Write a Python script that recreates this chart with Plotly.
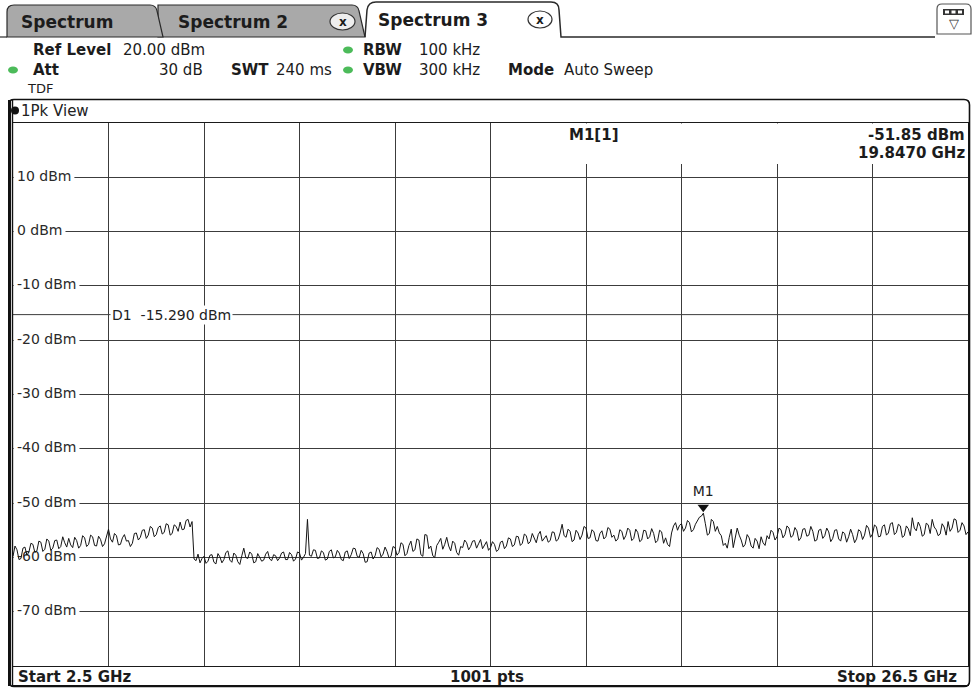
import plotly.graph_objects as go

# ---------------- data ----------------
start_ghz = 2.5
stop_ghz = 26.5
ref_level_dbm = 20.0
bottom_dbm = -80.0
sweep_points = 1001

# trace level (dBm), equally spaced (0.05 GHz) from start to stop
level_dbm = [
    # 2.50 - 7.00 GHz
    -59.8, -57.9, -58.6, -60.4, -60.2, -58.3, -58.1, -59.6, -59.0, -57.4,
    -57.6, -59.1, -58.8, -57.0, -57.2, -58.9, -58.5, -56.6, -57.0, -58.7,
    -58.3, -56.9, -56.8, -58.4, -58.0, -56.2, -57.3, -58.1, -56.5, -57.7,
    -58.2, -56.3, -56.9, -58.3, -57.8, -56.0, -56.4, -58.0, -57.6, -55.9,
    -56.2, -57.8, -57.9, -56.1, -56.7, -58.0, -57.5, -56.3, -54.8, -56.6,
    -57.2, -55.6, -56.0, -57.7, -57.6, -56.4, -55.8, -57.0, -56.9, -58.0,
    -57.4, -55.6, -55.5, -56.8, -56.3, -55.0, -54.9, -56.5, -55.9, -54.3,
    -54.6, -56.2, -55.8, -54.5, -54.2, -55.7, -55.4, -53.8, -54.0, -55.9,
    -55.6, -54.0, -54.3, -55.2, -53.5, -54.9, -54.8, -53.2, -53.0, -54.4,
    -53.4,
    # 7.05 - 10.20 GHz
    -60.3, -60.6, -59.4, -61.0, -60.2, -59.8, -61.1, -60.7, -59.6, -59.5,
    -60.9, -61.2, -59.3, -59.9, -61.0, -60.4, -59.1, -58.8, -60.5, -60.9,
    -59.2, -59.6, -60.8, -61.3, -59.7, -58.3, -60.0, -60.2, -59.0, -59.4,
    -61.0, -60.8, -59.3, -59.9, -60.7, -60.5, -59.4, -58.9, -60.3, -60.6,
    -59.5, -59.7, -60.6, -60.1, -59.2, -59.0, -60.4, -60.4, -59.1, -59.5,
    -60.7, -60.3, -59.0, -59.2, -60.5, -60.0, -59.3, -53.0, -59.6, -59.8,
    -58.6, -58.7, -60.2, -60.1,
    # 10.25 - 14.50 GHz
    -58.8, -59.1, -60.5, -60.3, -58.9, -58.6, -60.1, -59.9, -58.7, -59.2,
    -60.4, -60.6, -59.0, -58.8, -60.2, -59.5, -58.3, -58.4, -59.8, -60.0,
    -58.7, -59.3, -60.9, -60.8, -59.2, -59.0, -60.3, -59.7, -58.2, -58.5,
    -59.9, -59.4, -58.1, -58.9, -60.1, -59.8, -58.0, -58.2, -59.6, -59.1,
    -57.3, -57.6, -59.7, -59.3, -57.8, -57.0, -58.9, -58.6, -56.6, -56.8,
    -59.5, -59.8, -55.8, -55.9, -58.4, -57.9, -59.7, -60.0, -57.8, -57.2,
    -56.5, -58.5, -57.6, -56.3, -57.9, -58.8, -57.0, -57.4, -59.1, -59.6,
    -58.0, -58.2, -56.8, -57.3, -58.6, -58.0, -57.0, -56.9, -58.3, -57.5,
    -56.7, -58.4, -57.8, -57.1, -58.7, -58.2,
    # 14.55 - 17.60 GHz
    -57.1, -57.6, -58.9, -58.6, -57.2, -57.0, -58.4, -57.9, -56.4, -56.6,
    -58.0, -57.7, -56.1, -56.2, -57.8, -57.4, -55.7, -56.0, -57.5, -57.1,
    -55.6, -56.4, -57.3, -55.8, -55.2, -57.0, -56.6, -56.0, -57.2, -56.9,
    -55.3, -55.4, -57.0, -56.7, -55.5, -53.9, -56.0, -56.3, -54.8, -55.2,
    -57.1, -56.8, -55.0, -55.5, -56.7, -55.9, -54.3, -54.6, -56.5, -56.4,
    -54.9, -55.3, -56.9, -57.0, -55.6, -55.1, -56.6, -56.2, -54.5, -54.8,
    -56.3, -55.9,
    # 17.65 - 21.50 GHz
    -57.0, -56.6, -54.9, -55.2, -56.7, -56.0, -54.6, -55.0, -56.9, -56.5,
    -54.8, -55.4, -57.1, -56.8, -55.0, -55.1, -56.6, -56.2, -54.7, -55.6,
    -57.3, -56.9, -55.0, -55.3, -57.4, -56.4, -57.6, -58.0, -55.5, -54.2,
    -53.6, -55.0, -54.1, -53.8, -55.2, -54.6, -53.2, -53.6, -55.3, -54.9,
    -53.9, -53.3, -52.6, -52.4, -51.85, -53.8, -55.9, -55.6, -53.0, -53.4,
    -55.2, -54.3, -55.5, -56.0, -57.8, -57.4, -58.3, -56.3, -54.8, -58.2,
    -56.0, -54.6, -55.9, -56.8, -58.1, -57.6, -55.8, -56.4, -57.9, -58.3,
    -56.5, -57.0, -58.4, -56.2, -57.3, -57.8, -56.0, -56.6,
    # 21.55 - 26.50 GHz
    -55.0, -55.4, -56.8, -56.2, -54.6, -54.9, -56.4, -55.8, -54.2, -54.6,
    -56.3, -56.0, -54.5, -55.1, -56.9, -56.4, -54.8, -54.7, -56.1, -55.9,
    -54.3, -55.2, -57.0, -56.8, -55.0, -54.8, -56.5, -56.0, -54.6, -55.3,
    -57.1, -56.5, -55.0, -54.9, -56.6, -57.0, -55.3, -55.6, -57.2, -56.2,
    -54.8, -55.8, -57.3, -56.6, -54.9, -55.2, -56.7, -55.9, -54.1, -54.6,
    -56.3, -55.7, -54.0, -54.4, -56.2, -56.1, -54.3, -54.0, -55.9, -55.5,
    -53.8, -53.6, -55.8, -55.4, -53.9, -54.2, -56.3, -56.0, -54.2, -54.7,
    -56.0, -52.7, -54.6, -55.1, -53.5, -54.3, -56.1, -55.8, -53.7, -54.0,
    -55.6, -53.0, -54.4, -54.9, -56.0, -55.7, -53.8, -54.4, -55.9, -53.4,
    -55.2, -54.6, -52.9, -53.1, -55.4, -55.0, -53.6, -54.2, -55.8, -55.3,
]

x_grid_ghz = [2.5, 4.9, 7.3, 9.7, 12.1, 14.5, 16.9, 19.3, 21.7, 24.1, 26.5]
y_grid_dbm = [-80, -70, -60, -50, -40, -30, -20, -10, 0, 10, 20]
y_label_dbm = [10, 0, -10, -20, -30, -40, -50, -60, -70]
y_label_text = ["10 dBm", "0 dBm", "-10 dBm", "-20 dBm", "-30 dBm",
                "-40 dBm", "-50 dBm", "-60 dBm", "-70 dBm"]

d1_level_dbm = -15.29
marker_name = "M1"
marker_freq_ghz = 19.847
marker_level_dbm = -51.85

tab_names = ["Spectrum", "Spectrum 2", "Spectrum 3"]

n = len(level_dbm)
freq_ghz = [start_ghz + i * (stop_ghz - start_ghz) / (n - 1) for i in range(n)]

# ---------------- geometry / style ----------------
W, H = 972, 692
PL, PR, PT, PB = 13, 968, 123, 666
FONT = "DejaVu Sans"
INK = "#1c1c1c"
GRID = "#3c3c3c"
GREEN = "#4cbb5a"
LABEL_SIZE = 14
LABEL_LEFT = 17
CHAR_EM = {"-": 0.361, " ": 0.318, "d": 0.635, "B": 0.686, "m": 0.974}


def px(x):
    return (x - PL) / (PR - PL)


def py(y):
    return (PB - y) / (PB - PT)


def dx(x):
    return start_ghz + (x - PL) / (PR - PL) * (stop_ghz - start_ghz)


def dy(y):
    return bottom_dbm + (PB - y) / (PB - PT) * (ref_level_dbm - bottom_dbm)


def text_width(s, size):
    return sum(CHAR_EM.get(c, 0.636) for c in s) * size


def path(cmds):
    out = []
    for c in cmds:
        if c[0] == "Z":
            out.append("Z")
        else:
            vals = c[1:]
            pts = []
            for i in range(0, len(vals), 2):
                pts.append(f"{px(vals[i]):.5f},{py(vals[i + 1]):.5f}")
            out.append(c[0] + " " + " ".join(pts))
    return " ".join(out)


shapes = []
annotations = []


def add_path(cmds, fill=None, color=INK, width=1, layer="above"):
    d = dict(type="path", xref="paper", yref="paper", path=path(cmds),
             line=dict(color=color, width=width), layer=layer)
    if fill:
        d["fillcolor"] = fill
    shapes.append(d)


def add_rect(x0, y0, x1, y1, fill=None, color=None, width=0, layer="above", kind="rect"):
    d = dict(type=kind, xref="paper", yref="paper", x0=px(x0), x1=px(x1),
             y0=py(y1), y1=py(y0), layer=layer,
             line=dict(color=color or "rgba(0,0,0,0)", width=width))
    if fill:
        d["fillcolor"] = fill
    shapes.append(d)


def add_cover(x0, y0, x1, y1):
    # white patch in data coordinates: above gridlines, below traces
    shapes.append(dict(type="rect", xref="x", yref="y", x0=dx(x0), x1=dx(x1),
                       y0=dy(y1), y1=dy(y0), layer="between", fillcolor="white",
                       line=dict(width=0, color="rgba(0,0,0,0)")))


def add_line(x0, y0, x1, y1, color=INK, width=1, layer="above"):
    shapes.append(dict(type="line", xref="paper", yref="paper", x0=px(x0), x1=px(x1),
                       y0=py(y0), y1=py(y1), line=dict(color=color, width=width), layer=layer))


def add_text(x, y, s, size=15, anchor="left", bold=False, color=INK, family=FONT, bg=None):
    d = dict(xref="paper", yref="paper", x=px(x), y=py(y), text=(f"<b>{s}</b>" if bold else s),
             showarrow=False, xanchor=anchor, yanchor="middle",
             font=dict(family=family, size=size, color=color), borderpad=0)
    if bg:
        d["bgcolor"] = bg
    annotations.append(d)


# ---------------- tabs ----------------
TAB_GRAY = "#a9a9a9"
add_path([("M", 158, 37), ("L", 158, 5), ("L", 352, 5), ("Q", 358, 5, 359, 11),
          ("L", 365, 37), ("Z",)], fill=TAB_GRAY, color="#2a2a2a", width=1.2)
add_path([("M", 7, 37), ("L", 7, 12), ("Q", 7, 5, 14, 5), ("L", 150, 5), ("Q", 156, 5, 157, 11),
          ("L", 163, 37), ("Z",)], fill=TAB_GRAY, color="#2a2a2a", width=1.2)
add_path([("M", 365, 37), ("L", 367, 10), ("Q", 368, 2, 376, 2), ("L", 551, 2),
          ("Q", 559, 2, 559, 10), ("L", 561, 37), ("L", 935, 37)],
         fill=None, color="#2a2a2a", width=1.5)
add_line(0, 37, 7, 37, color="#2a2a2a", width=1.2)

add_text(20, 22, tab_names[0], size=17, bold=True)
add_text(177, 22, tab_names[1], size=17, bold=True)
add_text(377, 20, tab_names[2], size=17, bold=True)
# close buttons
add_rect(330, 13, 355, 30, fill="#eeeeee", color="#333", width=1.2, kind="circle")
add_text(342.5, 21.5, "x", size=12, anchor="center", bold=True)
add_rect(528, 11, 552, 28, fill="white", color="#333", width=1.2, kind="circle")
add_text(540, 19.5, "x", size=12, anchor="center", bold=True)
# top right icon
add_path([("M", 937, 34), ("L", 937, 9), ("Q", 937, 4, 942, 4), ("L", 966, 4),
          ("Q", 971, 4, 971, 9), ("L", 971, 34), ("Z",)], fill="white", color="#555", width=1.2)
add_rect(943, 9, 964, 15, fill="#333")
add_rect(945, 10.5, 949, 13.5, fill="white")
add_rect(951.5, 10.5, 955.5, 13.5, fill="white")
add_rect(958, 10.5, 962, 13.5, fill="white")
add_text(954, 23, "▽", size=13, anchor="center", color="#333")

# ---------------- header ----------------
add_text(32, 50, "Ref Level", bold=True)
add_text(122, 50, f"{ref_level_dbm:.2f} dBm")
add_rect(343, 46.5, 353, 53.5, fill=GREEN, kind="circle")
add_text(362, 50, "RBW", bold=True)
add_text(418, 50, "100 kHz")

add_rect(8, 66.5, 18, 73.5, fill=GREEN, kind="circle")
add_text(32, 70, "Att", bold=True)
add_text(204, 70, "30 dB", anchor="right")
add_text(230, 70, "SWT", bold=True)
add_text(275, 70, "240 ms")
add_rect(343, 66.5, 353, 73.5, fill=GREEN, kind="circle")
add_text(362, 70, "VBW", bold=True)
add_text(418, 70, "300 kHz")
add_text(507, 70, "Mode", bold=True)
add_text(563, 70, "Auto Sweep")
add_text(26, 89, "TDF", size=13)

# ---------------- window frame ----------------
add_path([("M", 9, 686), ("L", 9, 104), ("Q", 9, 99.5, 14, 99.5), ("L", 964, 99.5),
          ("Q", 969.5, 99.5, 969.5, 105), ("L", 969.5, 681), ("Q", 969.5, 686.5, 964, 686.5),
          ("L", 14, 686.5), ("Q", 9, 686.5, 9, 681)], color="#111", width=1.6)
add_line(9.5, 100, 9.5, 686, color="#111", width=3)
add_line(12.5, 100, 12.5, 686, color="#111", width=1.4)
add_rect(11, 106.5, 19, 114.5, fill="#111", kind="circle")
add_text(20, 111, "1Pk View", size=15, color="#222")

# status bar
add_line(13, 685.5, 969, 685.5, color="#111", width=1.2)
add_text(17, 677, f"Start {start_ghz:g} GHz", size=15, bold=True)
add_text(487, 677, f"{sweep_points} pts", size=15, bold=True, anchor="center")
add_text(958, 677, f"Stop {stop_ghz:g} GHz", size=15, bold=True, anchor="right")

# marker info box (covers the grid at the top right)
add_cover(491, 123.5, 967.5, 164)
add_text(594, 135, f"{marker_name}[1]", size=15, bold=True, anchor="center")
add_text(966, 135, f"{marker_level_dbm:.2f} dBm", size=15, bold=True, anchor="right")
add_text(966, 153, f"{marker_freq_ghz:.4f} GHz", size=15, bold=True, anchor="right")

# white patches behind y labels (cover gridline only up to the end of the text)
for v, s in zip(y_label_dbm, y_label_text):
    yy = PB - (v - bottom_dbm) / (ref_level_dbm - bottom_dbm) * (PB - PT)
    add_cover(13.6, yy - 7, LABEL_LEFT + text_width(s, LABEL_SIZE) + 3, yy + 7)

# D1 display line
shapes.append(dict(type="line", xref="paper", yref="y", x0=0, x1=1, y0=d1_level_dbm, y1=d1_level_dbm,
                   line=dict(color=GRID, width=1), layer="between"))
annotations.append(dict(xref="paper", yref="y", x=px(110), y=d1_level_dbm, xanchor="left",
                        yanchor="middle", showarrow=False, bgcolor="white", borderpad=1,
                        text=f"D1  {d1_level_dbm:.3f} dBm",
                        font=dict(family=FONT, size=14, color="#222")))

# ---------------- traces ----------------
fig = go.Figure()
label_x = dx(LABEL_LEFT)
fig.add_trace(go.Scatter(x=[label_x] * len(y_label_dbm), y=y_label_dbm, text=y_label_text,
                         mode="text", textposition="middle right",
                         textfont=dict(family=FONT, size=LABEL_SIZE, color="#2a2a2a"),
                         hoverinfo="skip", showlegend=False))
fig.add_trace(go.Scatter(x=freq_ghz, y=level_dbm, mode="lines",
                         line=dict(color="#151515", width=1), showlegend=False))
fig.add_trace(go.Scatter(x=[marker_freq_ghz], y=[marker_level_dbm + 1.1], mode="markers+text",
                         text=[marker_name], textposition="top center",
                         textfont=dict(family=FONT, size=14, color="#222"),
                         marker=dict(symbol="triangle-down", size=10, color="#111"),
                         showlegend=False))

axis_common = dict(showticklabels=False, ticks="", zeroline=False, showline=True, mirror=True,
                   linecolor="#1a1a1a", linewidth=1.2, gridcolor=GRID, gridwidth=1,
                   showgrid=True, fixedrange=True)

fig.update_layout(
    width=W, height=H,
    margin=dict(l=PL, r=W - PR, t=PT, b=H - PB, pad=0),
    paper_bgcolor="white", plot_bgcolor="white",
    xaxis=dict(range=[start_ghz, stop_ghz], tickmode="array", tickvals=x_grid_ghz, **axis_common),
    yaxis=dict(range=[bottom_dbm, ref_level_dbm], tickmode="array", tickvals=y_grid_dbm, **axis_common),
    shapes=shapes, annotations=annotations, showlegend=False,
)

fig.write_html("out.html", config={"displayModeBar": False},
               post_script="document.body.style.margin='0';document.body.style.overflow='hidden';")
